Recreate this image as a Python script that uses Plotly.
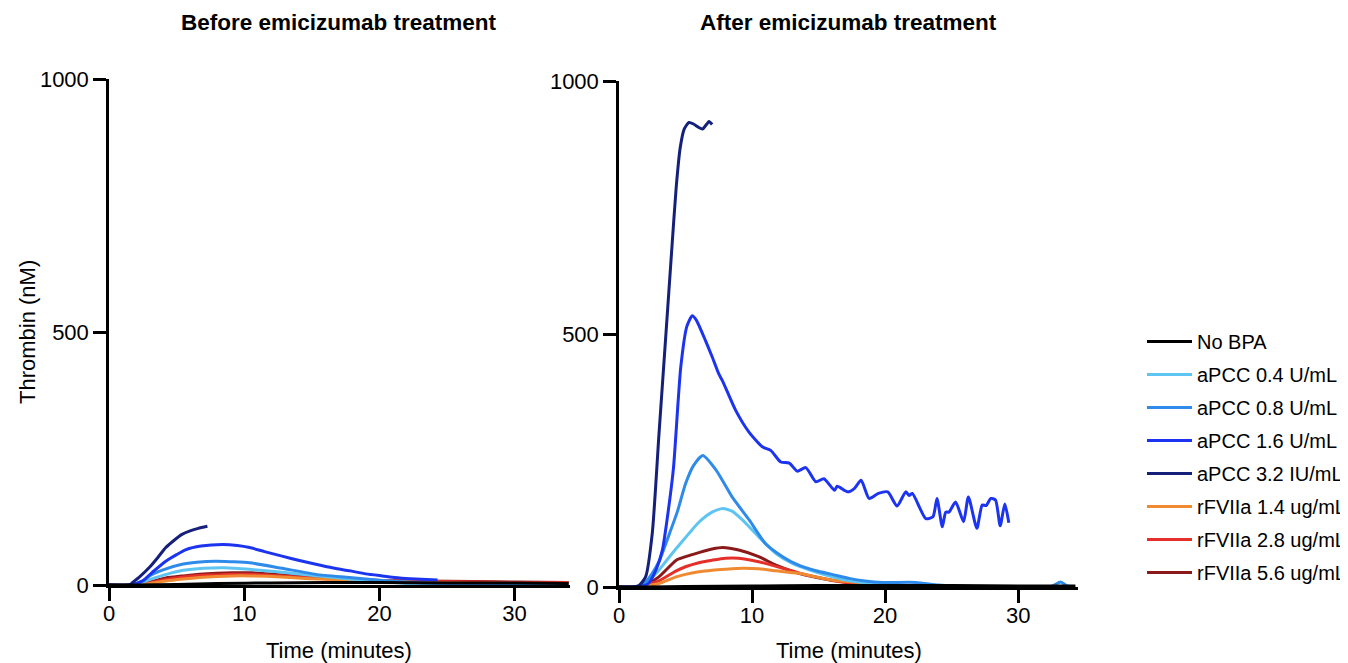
import plotly.graph_objects as go

W, H = 1348, 663
OFFSET = 8  # default page body margin

# ---------------- data : Before emicizumab treatment ----------------
nobpa_b_x = [0, 2, 5, 8, 12, 16, 20, 25, 30, 34]
nobpa_b_y = [0, 0, 1, 3, 4, 5, 5, 4, 4, 3]

apcc04_b_x = [0, 1.5, 2.5, 3.5, 4.5, 5.5, 7, 8.5, 10.4, 12.8, 15.3, 17.8, 20.2, 22, 24, 26.4, 30, 34]
apcc04_b_y = [0, 0, 6, 15, 23, 29, 33, 34, 31, 25, 18.5, 12, 7, 3, 0, -3, -3, -2]

apcc08_b_x = [0, 1.5, 2.5, 3, 4, 5.4, 6.5, 7.9, 9, 10.4, 12.8, 15.3, 17.8, 20.2, 22, 25, 30, 34]
apcc08_b_y = [0, 0, 8, 18, 30, 41, 45, 47, 46, 44, 33, 21, 15, 9, 6, 2, 0, -1]

apcc16_b_x = [0, 1.5, 2.47, 3.2, 4.2, 5, 5.7, 6.8, 8.4, 9.5, 10.4, 11.5, 12.8, 14, 15.3, 16.5, 17.8, 19, 20.2, 21.5, 22.7, 24.3]
apcc16_b_y = [0, 0, 8, 25, 47, 60, 70, 77, 80, 78, 74, 66, 57, 49, 41, 34, 28, 22, 18, 14, 12, 10]

apcc32_b_x = [0, 1.5, 1.73, 2.3, 2.96, 3.6, 4.2, 4.8, 5.4, 6.0, 6.6, 7.28]
apcc32_b_y = [0, 0, 4.6, 17, 34, 54, 74, 88, 100, 107, 112, 116]

rf14_b_x = [0, 1.5, 2.5, 3.5, 4.2, 5.5, 6.7, 8, 9.1, 10.5, 12.8, 14.5, 16.5, 18.5, 20.2, 23, 27, 30, 34]
rf14_b_y = [0, 0, 1, 5, 8, 12, 15, 17, 18, 18, 16, 13, 11, 9, 8, 5, 3, 2, 2]

rf28_b_x = [0, 1.5, 2.5, 3.5, 4.2, 5.5, 6.7, 8, 9.1, 10.5, 12.8, 14.5, 16.5, 18.5, 20.2, 23, 27, 30, 34]
rf28_b_y = [0, 0, 2, 7, 11, 16, 19, 20, 21, 21, 18, 15, 12, 10, 9, 7, 6, 5, 5]

rf56_b_x = [0, 1.5, 2.5, 3.5, 4.2, 5.5, 6.7, 8, 9.1, 10.5, 12.8, 14.5, 16.5, 18.5, 20.2, 23, 27, 30, 34]
rf56_b_y = [0, 0, 3, 9, 14, 18, 21, 23, 24, 24, 20, 16, 12, 10, 9, 8, 7, 6, 5]

# ---------------- data : After emicizumab treatment ----------------
nobpa_a_x = [0, 2, 5, 10, 15, 20, 25, 30, 34.3]
nobpa_a_y = [0, 0, 1, 2, 3, 3, 3, 2, 2]

apcc04_a_x = [0, 1.5, 2.0, 2.8, 3.5, 4.3, 5.2, 6.0, 7.0, 7.8, 8.5, 9.3, 10.5, 11.8, 13.0, 14.3, 15.5, 16.8, 18.0, 19.5, 21, 24, 27, 30, 34]
apcc04_a_y = [0, 0, 8, 27, 50, 76, 104, 128, 148, 155, 150, 132, 99, 66, 47, 34, 24, 15, 10, 5, 1, -3, -4, -3, -2]

apcc08_a_x = [0, 1.3, 2.0, 2.5, 3.0, 3.8, 4.4, 5.0, 5.6, 6.3, 7.3, 8.5, 9.8, 11.0, 12.3, 13.5, 14.8, 16.0, 17.3, 18.5, 19.8, 22.3, 24, 26, 30, 32.5, 33.2, 33.7, 34.3]
apcc08_a_y = [0, 0, 10, 27, 50, 106, 150, 204, 240, 260, 231, 178, 132, 86, 60, 43, 32, 25, 17, 12, 9, 9, 4, 1, 0, 1, 10, 2, 1]

apcc16_a_x = [0, 1.2, 1.8, 2.25, 2.8, 3.26, 3.7, 4.1, 4.64, 5.1, 5.5, 5.8, 6.5, 7.0, 7.5, 7.77, 8.77, 9.77, 10.77,
              11.4, 12.16, 12.8, 13.4, 14.04, 14.8, 15.4, 16.2, 16.4, 17.2, 17.7, 18.2, 18.8, 19.5, 20.2, 20.9,
              21.55, 21.8, 22.05, 23.06, 23.6, 23.9, 24.3, 24.56, 24.8, 25.3, 25.9, 26.26, 26.9, 27.3, 27.6,
              27.95, 28.3, 28.65, 29.0, 29.3]
apcc16_a_y = [0, 0, 2, 8, 35, 73, 150, 237, 434, 515, 536, 528, 487, 455, 421, 408, 349, 306, 277,
              270, 247, 245, 229, 236, 208, 214, 191, 199, 188, 195, 211, 175, 185, 188, 160,
              188, 181, 185, 135, 139, 175, 119, 148, 148, 168, 129, 178, 116, 162, 161,
              175, 172, 121, 164, 127]

apcc32_a_x = [0, 0.9, 1.5, 2.0, 2.5, 3.0, 3.5, 4.0, 4.3, 4.6, 4.9, 5.26, 5.6, 6.0, 6.27, 6.6, 6.77, 7.0]
apcc32_a_y = [0, 0, 3, 20, 106, 300, 490, 680, 790, 868, 905, 918, 915, 908, 905, 915, 920, 914]

rf14_a_x = [0, 1.5, 2.0, 3.0, 4.3, 5.0, 6.0, 7.0, 8.0, 9.3, 10.5, 11.8, 13.5, 14.8, 16.0, 18.0, 20, 23, 27, 30, 34]
rf14_a_y = [0, 0, 2, 7, 20, 25, 30, 33, 35, 37, 36, 32, 27, 20, 14, 9, 5, 2, 1, 0, 0]

rf28_a_x = [0, 1.5, 2.0, 3.0, 4.3, 5.0, 6.0, 7.0, 8.0, 9.0, 10.5, 12.3, 13.5, 14.8, 16.5, 18, 20, 23, 27, 30, 34]
rf28_a_y = [0, 0, 3, 12, 32, 40, 48, 53, 57, 57, 50, 37, 28, 20, 11, 6, 3, 1, 0, 0, 0]

rf56_a_x = [0, 1.5, 2.0, 3.0, 4.3, 5.0, 6.0, 7.0, 7.8, 9.0, 10.5, 11.8, 13.5, 14.8, 16.0, 17.3, 19, 21, 24, 27, 30, 34]
rf56_a_y = [0, 0, 4, 20, 53, 60, 68, 75, 78, 73, 60, 43, 27, 19, 13, 9, 4, 1, 0, 0, 0, 0]

series_names = ["No BPA", "aPCC 0.4 U/mL", "aPCC 0.8 U/mL", "aPCC 1.6 U/mL", "aPCC 3.2 IU/mL",
                "rFVIIa 1.4 ug/mL", "rFVIIa 2.8 ug/mL", "rFVIIa 5.6 ug/mL"]
series_colors = ["#000000", "#5EC4F2", "#2F8BEA", "#1C34F0", "#15207A", "#EF8A30", "#E5302A", "#8A1A1A"]

before = [(nobpa_b_x, nobpa_b_y), (apcc04_b_x, apcc04_b_y), (apcc08_b_x, apcc08_b_y), (apcc16_b_x, apcc16_b_y),
          (apcc32_b_x, apcc32_b_y), (rf14_b_x, rf14_b_y), (rf28_b_x, rf28_b_y), (rf56_b_x, rf56_b_y)]
after = [(nobpa_a_x, nobpa_a_y), (apcc04_a_x, apcc04_a_y), (apcc08_a_x, apcc08_a_y), (apcc16_a_x, apcc16_a_y),
         (apcc32_a_x, apcc32_a_y), (rf14_a_x, rf14_a_y), (rf28_a_x, rf28_a_y), (rf56_a_x, rf56_a_y)]

x_ticks = [0, 10, 20, 30]
y_ticks = [0, 500, 1000]

FONT = "Liberation Sans, Arial, Helvetica, sans-serif"

fig = go.Figure()

# draw coloured series first, black baseline on top
draw_order = [7, 6, 5, 1, 2, 3, 4, 0]
for panel, data, xa, ya in [(0, before, "x", "y"), (1, after, "x2", "y2")]:
    for i in draw_order:
        xs, ys = data[i]
        fig.add_trace(go.Scatter(
            x=xs, y=ys, mode="lines", name=series_names[i],
            line=dict(color=series_colors[i], width=3, shape="spline", smoothing=0.6),
            xaxis=xa, yaxis=ya, showlegend=(panel == 1), legendrank=i + 1,
            legendgroup="g%d" % i, hoverinfo="skip"))


def px_x(p):
    return (p - OFFSET) / W


def px_y(p):
    return 1 - (p - OFFSET) / H


axis_common = dict(showline=True, linecolor="black", linewidth=2.5, ticks="outside", ticklen=13,
                   tickwidth=2.5, tickcolor="black", showgrid=False, zeroline=False,
                   tickfont=dict(family=FONT, size=22, color="black"), automargin=False)

fig.update_layout(
    width=W, height=H, paper_bgcolor="white", plot_bgcolor="white",
    margin=dict(l=0, r=0, t=0, b=0),
    font=dict(family=FONT, color="black"),
    xaxis=dict(domain=[px_x(109), px_x(570)], range=[0, 34.1], tickvals=x_ticks, anchor="y",
               ticklabelstandoff=-6, **axis_common),
    yaxis=dict(domain=[px_y(585), px_y(79)], range=[0, 1000], tickvals=y_ticks, anchor="x", **axis_common),
    xaxis2=dict(domain=[px_x(619), px_x(1078)], range=[0, 34.5], tickvals=x_ticks, anchor="y2",
                ticklabelstandoff=-6, **axis_common),
    yaxis2=dict(domain=[px_y(587), px_y(81)], range=[0, 1000], tickvals=y_ticks, anchor="x2", **axis_common),
    legend=dict(x=px_x(1142), y=px_y(322), xanchor="left", yanchor="top",
                font=dict(family=FONT, size=20, color="black"), tracegroupgap=4,
                bgcolor="rgba(0,0,0,0)", itemwidth=45),
    showlegend=True,
)

annotations = [
    dict(text="<b>Before emicizumab treatment</b>", x=px_x(339), y=px_y(22), font=dict(size=22.5)),
    dict(text="<b>After emicizumab treatment</b>", x=px_x(848), y=px_y(22), font=dict(size=22.5)),
    dict(text="Time (minutes)", x=px_x(339), y=px_y(650), font=dict(size=22)),
    dict(text="Time (minutes)", x=px_x(849), y=px_y(650), font=dict(size=22)),
    dict(text="Thrombin (nM)", x=px_x(27), y=px_y(332), textangle=-90, font=dict(size=22)),
    dict(text="\u25A0 in thrombosis & haemostasis", x=px_x(1141), y=px_y(1.5), xanchor="left",
         font=dict(size=9, color="#1F3A7A")),
]
for a in annotations:
    a.setdefault("xanchor", "center")
    a.update(xref="paper", yref="paper", showarrow=False, yanchor="middle")
    a["font"] = dict(family=FONT, color=a["font"].get("color", "black"), size=a["font"]["size"])
fig.update_layout(annotations=annotations)

fig.write_html("out.html")
